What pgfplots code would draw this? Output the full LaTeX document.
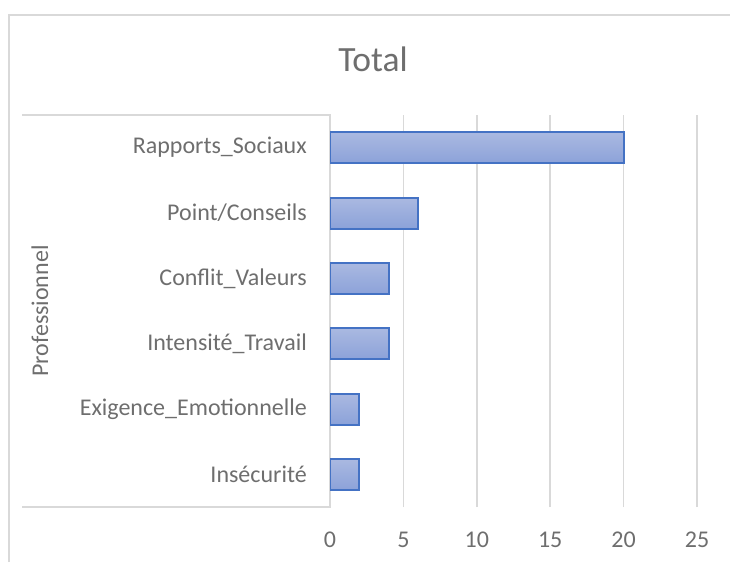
\documentclass[border=0pt]{standalone}
\usepackage{pgfplots}
\pgfplotsset{compat=1.18}
\usepackage{fontspec}
\setmainfont{Carlito}
\definecolor{txt}{HTML}{6E6E6E}
\definecolor{grd}{HTML}{D9D9D9}
\definecolor{barline}{HTML}{4472C4}
\definecolor{bartop}{HTML}{AAB9E1}
\definecolor{barbot}{HTML}{8CA2D9}
\tikzset{mybar/.style={draw=barline, line width=2pt, top color=bartop, bottom color=barbot}}
\begin{document}
\begin{tikzpicture}[x=1pt,y=1pt]
\useasboundingbox (0,0) rectangle (730,562);
\draw[grd, line width=2pt] (9,0) -- (9,547) -- (731,547);
\draw[grd, line width=1.5pt] (22,447) -- (330,447) -- (330,55) -- (22,55);
\begin{axis}[
  at={(330pt,55pt)}, anchor=south west,
  width=367pt, height=392pt, scale only axis,
  xbar, bar width=31pt, bar shift=0pt,
  xmin=0, xmax=25, ymin=-0.5, ymax=5.5,
  xtick={0,5,...,25},
  ytick={0,...,5},
  yticklabels={Insécurité, Exigence\_Emotionnelle, Intensité\_Travail, Conflit\_Valeurs, Point/Conseils, Rapports\_Sociaux},
  axis line style={draw=none},
  major tick length=0pt,
  xmajorgrids, grid style={grd, line width=1.5pt},
  tick label style={font=\fontsize{24}{28}\selectfont, text=txt},
  /pgf/number format/assume math mode=true,
  yticklabel style={anchor=east, inner sep=0pt, xshift=-23pt},
  xticklabel style={anchor=north, inner sep=0pt, yshift=-25pt},
]
\addplot[mybar] coordinates {(2,0)};
\addplot[mybar] coordinates {(2,1)};
\addplot[mybar] coordinates {(4,2)};
\addplot[mybar] coordinates {(4,3)};
\addplot[mybar] coordinates {(6,4)};
\addplot[mybar] coordinates {(20,5)};
\end{axis}
\node[text=txt, font=\fontsize{35.5}{40}\selectfont, anchor=base] at (373,490) {Total};
\node[rotate=90, anchor=base, text=txt, font=\fontsize{24}{28}\selectfont] at (48,251) {Professionnel};
\end{tikzpicture}
\end{document}
